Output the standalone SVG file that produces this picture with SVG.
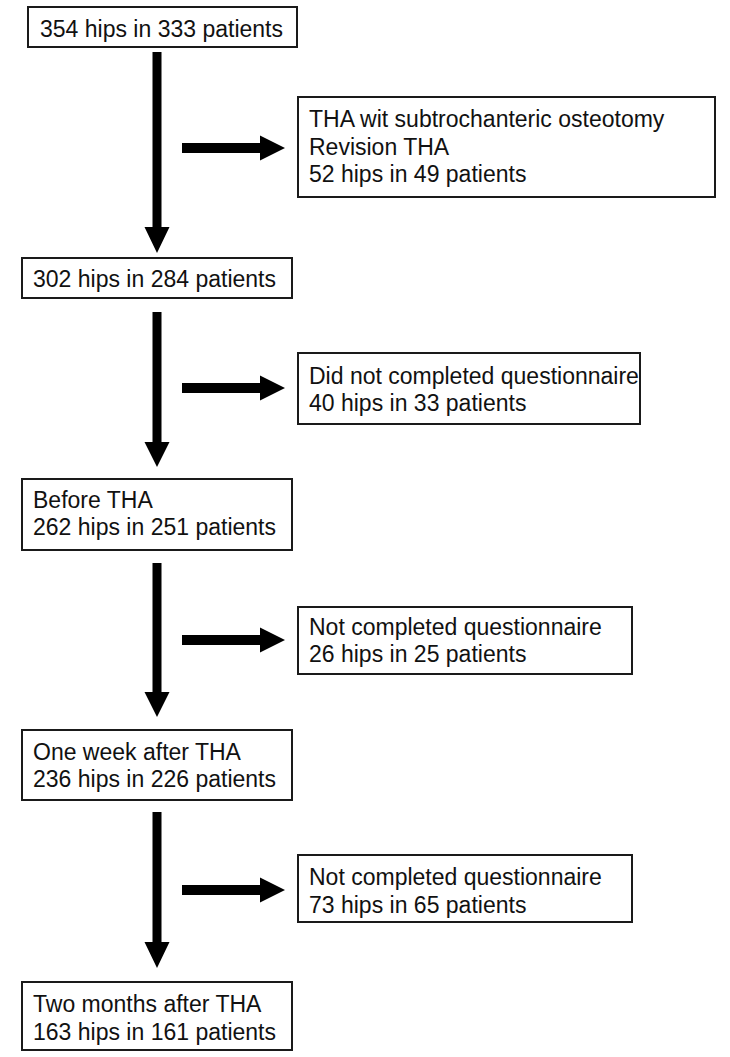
<svg xmlns="http://www.w3.org/2000/svg" width="730" height="1057" viewBox="0 0 730 1057">
<style>
.box{fill:#fff;stroke:#1a1a1a;stroke-width:2}
.t{font-family:"Liberation Sans",Arial,sans-serif;font-size:23px;fill:#111}
.arr{fill:#000}
</style>
<rect width="730" height="1057" fill="#fff"/>
<g id="connectors">
<polygon class="arr" points="152.5,52 161.5,52 161.5,227 169.5,227 157,253 144.5,227 152.5,227"/>
<polygon class="arr" points="182,143 260,143 260,135.5 285,148 260,160.5 260,153 182,153"/>
<polygon class="arr" points="152.5,312 161.5,312 161.5,442 169.5,442 157,467 144.5,442 152.5,442"/>
<polygon class="arr" points="182,383 260,383 260,375.5 285,388 260,400.5 260,393 182,393"/>
<polygon class="arr" points="152.5,563 161.5,563 161.5,692 169.5,692 157,717 144.5,692 152.5,692"/>
<polygon class="arr" points="182,635 260,635 260,627.5 285,640 260,652.5 260,645 182,645"/>
<polygon class="arr" points="152.5,812 161.5,812 161.5,942 169.5,942 157,968 144.5,942 152.5,942"/>
<polygon class="arr" points="182,885 260,885 260,877.5 285,890 260,902.5 260,895 182,895"/>
</g>
<g id="n1"><rect class="box" x="28" y="7" width="269" height="40"/><text class="t" x="40" y="37">354 hips in 333 patients</text></g>
<g id="n2"><rect class="box" x="298" y="97" width="417" height="100"/><text class="t" x="309" y="127">THA wit subtrochanteric osteotomy</text><text class="t" x="309" y="155">Revision THA</text><text class="t" x="309" y="182">52 hips in 49 patients</text></g>
<g id="n3"><rect class="box" x="22" y="258" width="270" height="40"/><text class="t" x="33" y="287">302 hips in 284 patients</text></g>
<g id="n4"><rect class="box" x="298" y="353" width="342" height="71"/><text class="t" x="309" y="384">Did not completed questionnaire</text><text class="t" x="309" y="411">40 hips in 33 patients</text></g>
<g id="n5"><rect class="box" x="22" y="479" width="270" height="71"/><text class="t" x="33" y="508">Before THA</text><text class="t" x="33" y="535">262 hips in 251 patients</text></g>
<g id="n6"><rect class="box" x="298" y="607" width="334" height="67"/><text class="t" x="309" y="635">Not completed questionnaire</text><text class="t" x="309" y="662">26 hips in 25 patients</text></g>
<g id="n7"><rect class="box" x="22" y="730" width="270" height="70"/><text class="t" x="33" y="760">One week after THA</text><text class="t" x="33" y="787">236 hips in 226 patients</text></g>
<g id="n8"><rect class="box" x="298" y="855" width="334" height="67"/><text class="t" x="309" y="885">Not completed questionnaire</text><text class="t" x="309" y="913">73 hips in 65 patients</text></g>
<g id="n9"><rect class="box" x="22" y="982" width="270" height="68"/><text class="t" x="33" y="1012">Two months after THA</text><text class="t" x="33" y="1040">163 hips in 161 patients</text></g>
</svg>
